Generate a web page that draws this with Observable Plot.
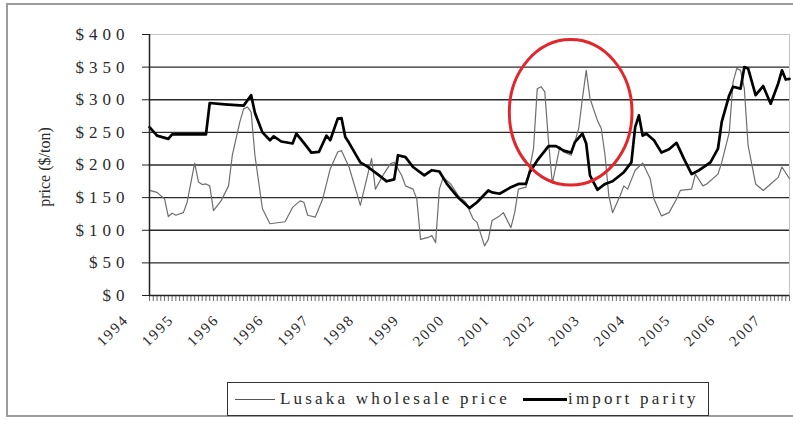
<!DOCTYPE html>
<html>
<head>
<meta charset="utf-8">
<script src="https://cdn.jsdelivr.net/npm/d3@7"></script>
<script src="https://cdn.jsdelivr.net/npm/@observablehq/plot@0.6"></script>
<style>
  html, body { margin: 0; padding: 0; background: #fff; }
  #wrap { position: relative; width: 793px; height: 421px; overflow: hidden; font-family: "Liberation Serif", "Times New Roman", serif; color: #222; }
  #frame { position: absolute; left: 6px; top: 3px; width: 820px; height: 414px; border: 2px solid #9c9c9c; box-sizing: border-box; }
  #chart { position: absolute; left: 0; top: 0; }
  .chart text { letter-spacing: 5px; fill: #2a2a2a; }
  .chart g.xlab text { letter-spacing: 2px; }
  #ytitle { position: absolute; left: 45px; top: 167px; transform: translate(-50%, -50%) rotate(-90deg); font-size: 16px; white-space: nowrap; color: #2a2a2a; }
  #legend { position: absolute; left: 227px; top: 382px; width: 482px; height: 34px; border: 1.5px solid #333; box-sizing: border-box; display: flex; align-items: center; font-size: 17px; letter-spacing: 3.2px; white-space: nowrap; color: #2a2a2a; }
  .sw { display: inline-block; height: 0; }
</style>
</head>
<body>
<div id="wrap">
  <div id="frame"></div>
  <div id="chart"></div>
  <div id="ytitle">price ($/ton)</div>
  <div id="legend">
    <span class="sw" style="width:40px;border-top:1.3px solid #555;margin-left:7px;margin-right:5px"></span><span>Lusaka wholesale price</span>
    <span class="sw" style="width:44px;border-top:3px solid #000;margin-left:13px;margin-right:1px"></span><span>import parity</span>
  </div>
</div>
<script>
// Month index (0 = first month shown) and price in $/ton
const lusakaMonth = [0,2,4,5,6,7,9,10,12,13,14,15,16,17,19,21,22,24,25,26,27,28,30,32,36,38,40,41,42,44,46,48,50,51,53,55,56,59,60,62,64,65,67,68,70,71,72,74,75,76,77,78,80,82,84,86,87,89,90,91,93,94,96,97,98,100,102,103,104,105,106,107,109,110,112,114,115,116,117,119,120,121,122,123,125,126,127,129,131,133,134,136,138,140,141,144,145,147,148,151,152,154,155,156,157,158,159,161,163,165,167,168,170];
const lusakaPrice = [161,158,148,121,126,123,127,143,203,174,170,171,168,130,145,168,215,266,286,289,281,215,133,110,113,135,145,143,123,120,148,194,220,222,197,158,138,210,163,184,202,204,184,168,163,148,86,89,92,81,163,181,171,153,143,117,112,76,86,115,122,127,104,127,163,166,225,317,320,312,235,172,228,220,215,256,302,345,302,268,256,215,153,127,153,168,163,192,203,179,148,122,127,148,161,163,186,168,171,186,204,250,327,348,345,317,230,171,161,171,181,197,179];

const parityMonth = [0,2,5,6,15,16,20,25,27,28,30,32,33,35,38,39,41,43,45,47,48,50,51,52,53,56,58,61,63,65,66,68,70,73,75,77,79,82,85,87,90,91,93,96,98,100,101,103,106,108,110,112,113,115,116,117,119,121,123,126,128,129,130,131,132,134,136,138,140,142,144,146,149,151,152,154,155,157,158,159,161,163,165,167,168,169,170];
const parityPrice = [258,245,240,247,247,295,293,291,307,280,250,238,244,236,233,248,234,219,220,245,238,271,272,243,234,204,197,184,175,178,215,212,197,184,192,190,171,150,134,143,161,158,156,166,171,171,189,207,229,229,222,219,235,248,233,184,162,171,175,189,204,258,276,245,248,238,219,224,234,209,186,192,204,225,266,307,320,317,350,348,307,321,294,325,345,331,332];

const yearLabels = ["1994","1995","1996","1996","1997","1998","1999","2000","2001","2002","2003","2004","2005","2006","2007"];
const yearLabelMonth = [0,12,24,36,48,60,72,84,96,108,120,132,144,156,168];
const yTicks = [0,50,100,150,200,250,300,350,400];
const gridValues = [50,100,150,200,250,300,350];
const monthCount = 170;

// highlighted region (red ellipse), in data units
const circleMonth = 112, circleValue = 280, circleMonthRadius = 16.3, circleValueRadius = 111.5;

const lusaka = lusakaMonth.map((m, i) => ({m, v: lusakaPrice[i]}));
const parity = parityMonth.map((m, i) => ({m, v: parityPrice[i]}));
const labels = yearLabels.map((t, i) => ({m: yearLabelMonth[i], t}));
const monthTicks = d3.range(0, monthCount + 1);

function ellipseMark(index, scales) {
  const cx = scales.x(circleMonth), cy = scales.y(circleValue);
  const rx = Math.abs(scales.x(circleMonth + circleMonthRadius) - cx);
  const ry = Math.abs(scales.y(circleValue + circleValueRadius) - cy);
  return d3.create("svg:ellipse")
    .attr("cx", cx).attr("cy", cy).attr("rx", rx).attr("ry", ry)
    .attr("fill", "none").attr("stroke", "#e3262b").attr("stroke-width", 3)
    .node();
}

const plot = Plot.plot({
  width: 793,
  height: 380,
  marginLeft: 149,
  marginRight: 4,
  marginTop: 34,
  marginBottom: 85,
  className: "chart",
  style: {fontFamily: "'Liberation Serif', 'Times New Roman', serif", background: "transparent", overflow: "visible"},
  x: {domain: [0, monthCount], axis: null, label: null},
  y: {domain: [0, 400], axis: null, label: null},
  marks: [
    Plot.gridY(gridValues, {stroke: "#2a2a2a", strokeOpacity: 1, strokeWidth: 1.3}),
    Plot.ruleY([400], {stroke: "#c4c4c4", strokeWidth: 1}),
    Plot.ruleX([monthCount], {stroke: "#c4c4c4", strokeWidth: 1}),
    Plot.axisY(yTicks, {tickSize: 7, tickPadding: 13, tickFormat: d => "$" + d, fontSize: 17, stroke: "#222", label: null}),
    Plot.axisX(monthTicks, {tickSize: 6, tickFormat: () => "", label: null, stroke: "#444", strokeWidth: 0.8}),
    Plot.text(labels, {x: "m", text: "t", frameAnchor: "bottom", rotate: -45, textAnchor: "end", dx: -20, dy: 25, fontSize: 15, className: "xlab"}),
    Plot.line(lusaka, {x: "m", y: "v", stroke: "#6e6e6e", strokeWidth: 1.2}),
    Plot.line(parity, {x: "m", y: "v", stroke: "#000", strokeWidth: 2.7}),
    Plot.ruleX([0], {stroke: "#222", strokeWidth: 1.5}),
    Plot.ruleY([0], {stroke: "#222", strokeWidth: 1.5}),
    ellipseMark
  ]
});
document.getElementById("chart").appendChild(plot);
</script>
</body>
</html>
